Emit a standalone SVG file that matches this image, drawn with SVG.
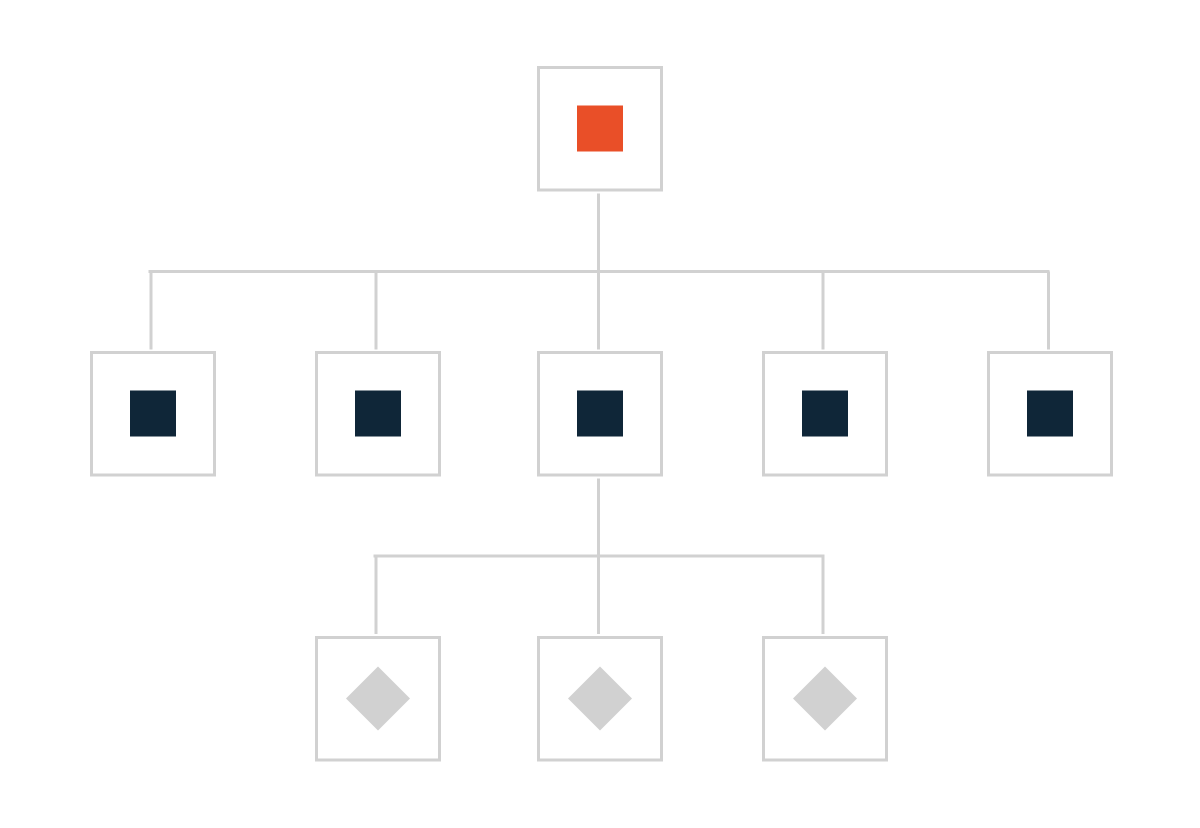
<svg xmlns="http://www.w3.org/2000/svg" width="1200" height="828" viewBox="0 0 1200 828">
<style>
.box{fill:#ffffff;stroke:#d1d1d1;stroke-width:3}
.root{fill:#e94f28}
.mid{fill:#0f2638}
.leaf{fill:#d1d1d1}
.conn{fill:none;stroke:#d1d1d1;stroke-width:3}
</style>
<rect width="1200" height="828" fill="#ffffff"/>
<g id="connectors">
<path class="conn" d="M598.5 193.5V271.5M148.5 271.5H1049.5M151 271.5V349.5M376 271.5V349.5M598.5 271.5V349.5M823 271.5V349.5M1048.5 271.5V349.5"/>
<path class="conn" d="M598.5 478.5V556M373.5 556H824.5M376 556V634M598.5 556V634M823 556V634"/>
</g>
<g id="node-root"><rect class="box" x="538.5" y="67.5" width="123" height="122.5"/><rect class="root" x="577" y="105.5" width="46" height="46"/></g>
<g id="node-b1"><rect class="box" x="91.5" y="352.5" width="123" height="122.5"/><rect class="mid" x="130" y="390.5" width="46" height="46"/></g>
<g id="node-b2"><rect class="box" x="316.5" y="352.5" width="123" height="122.5"/><rect class="mid" x="355" y="390.5" width="46" height="46"/></g>
<g id="node-b3"><rect class="box" x="538.5" y="352.5" width="123" height="122.5"/><rect class="mid" x="577" y="390.5" width="46" height="46"/></g>
<g id="node-b4"><rect class="box" x="763.5" y="352.5" width="123" height="122.5"/><rect class="mid" x="802" y="390.5" width="46" height="46"/></g>
<g id="node-b5"><rect class="box" x="988.5" y="352.5" width="123" height="122.5"/><rect class="mid" x="1027" y="390.5" width="46" height="46"/></g>
<g id="node-c1"><rect class="box" x="316.5" y="637.5" width="123" height="122.5"/><polygon class="leaf" points="378,666.5 410,698.5 378,730.5 346,698.5"/></g>
<g id="node-c2"><rect class="box" x="538.5" y="637.5" width="123" height="122.5"/><polygon class="leaf" points="600,666.5 632,698.5 600,730.5 568,698.5"/></g>
<g id="node-c3"><rect class="box" x="763.5" y="637.5" width="123" height="122.5"/><polygon class="leaf" points="825,666.5 857,698.5 825,730.5 793,698.5"/></g>
</svg>
